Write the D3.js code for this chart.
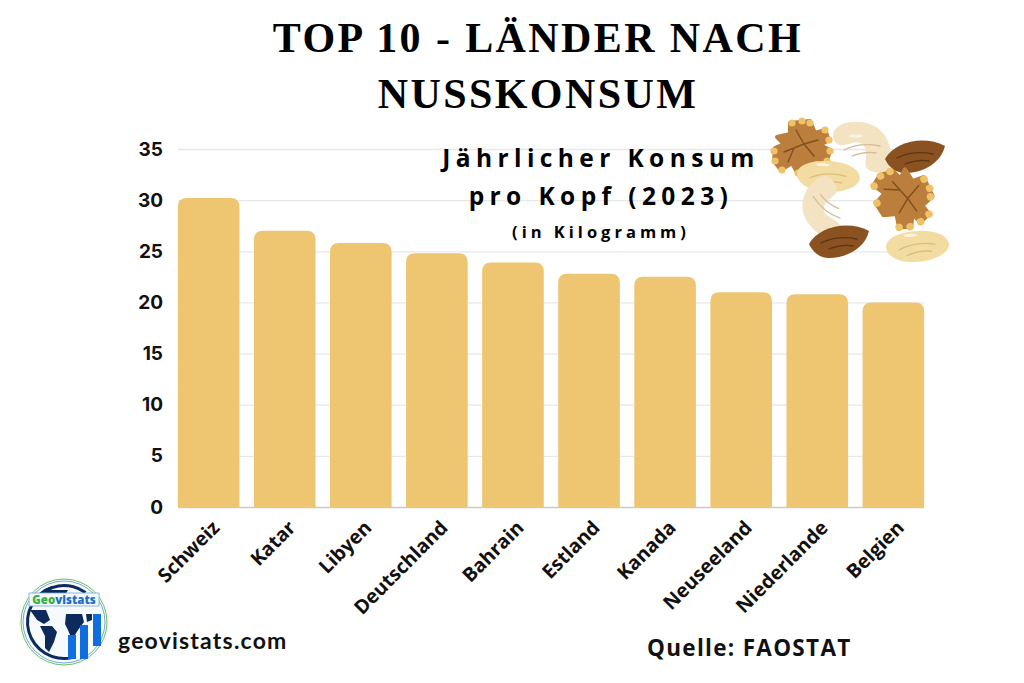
<!DOCTYPE html>
<html>
<head>
<meta charset="utf-8">
<script src="https://cdn.jsdelivr.net/npm/d3@7"></script>
<style>
html, body { margin: 0; padding: 0; background: #fff; }
svg { display: block; }
</style>
</head>
<body>
<div id="chart"></div>
<script>
// values
var countries = ["Schweiz", "Katar", "Libyen", "Deutschland", "Bahrain", "Estland", "Kanada", "Neuseeland", "Niederlande", "Belgien"];
var consumption = [30.2, 27.0, 25.8, 24.8, 23.9, 22.8, 22.5, 21.0, 20.8, 20.0];
var yTicks = [0, 5, 10, 15, 20, 25, 30, 35];
var titleLines = ["TOP 10 - LÄNDER NACH", "NUSSKONSUM"];
var subtitleLines = ["Jährlicher Konsum", "pro Kopf (2023)"];

var svg = d3.select("#chart").append("svg").attr("width", 1024).attr("height", 683);

var x = d3.scaleBand().domain(countries).range([171, 931]).paddingInner(0.19).paddingOuter(0.09);
var y = d3.scaleLinear().domain([0, 35]).range([507, 149]);

// Gridlines and y axis
var yAxis = svg.append("g").attr("transform", "translate(178,0)")
    .call(d3.axisLeft(y).tickValues(yTicks).tickSize(0).tickPadding(15));
yAxis.select(".domain").remove();
yAxis.selectAll("line").attr("x2", 746).attr("stroke", d => d == 0 ? "#c9c9c9" : "#e8e8e8").attr("stroke-width", 1.3);
yAxis.selectAll("text").attr("font-family", "Inter").attr("font-weight", 700).attr("font-size", 19).attr("fill", "#111");

// Bars, rounded on top only
svg.append("g").selectAll("path").data(countries).join("path")
    .attr("fill", "#eec672")
    .attr("d", (d, i) => {
        var x0 = x(d), w = x.bandwidth(), top = y(consumption[i]), r = 9;
        return `M${x0},${y(0)}V${top + r}Q${x0},${top} ${x0 + r},${top}H${x0 + w - r}Q${x0 + w},${top} ${x0 + w},${top + r}V${y(0)}Z`;
    });

// X labels
var xAxis = svg.append("g").attr("transform", "translate(0,507)")
    .call(d3.axisBottom(x).tickSize(0));
xAxis.select(".domain").remove();
xAxis.selectAll("text")
    .attr("font-family", "Open Sans").attr("font-weight", 700).attr("font-size", 19.5).attr("fill", "#111")
    .attr("text-anchor", "end")
    .attr("dy", null).attr("y", 0)
    .attr("transform", "translate(12,22) rotate(-45)");

// Titles
svg.append("g").selectAll("text").data(titleLines).join("text")
    .attr("x", 538).attr("y", (d, i) => 52 + i * 56)
    .attr("text-anchor", "middle")
    .attr("font-family", "Liberation Serif").attr("font-weight", 700)
    .attr("font-size", 42).attr("letter-spacing", 2.4).attr("fill", "#000")
    .text(d => d);

svg.append("g").selectAll("text").data(subtitleLines).join("text")
    .attr("x", 601).attr("y", (d, i) => 167 + i * 38)
    .attr("text-anchor", "middle")
    .attr("font-family", "Open Sans").attr("font-weight", 700)
    .attr("font-size", 24.5).attr("letter-spacing", 5.4).attr("fill", "#000")
    .text(d => d);

svg.append("text").attr("x", 601).attr("y", 238).attr("text-anchor", "middle")
    .attr("font-family", "Open Sans").attr("font-weight", 700)
    .attr("font-size", 16.5).attr("letter-spacing", 4).attr("fill", "#000")
    .text("(in Kilogramm)");

// Footer
svg.append("text").attr("x", 118).attr("y", 649)
    .attr("font-family", "Lato").attr("font-weight", 700)
    .attr("font-size", 23).attr("letter-spacing", 1.2).attr("fill", "#111")
    .text("geovistats.com");
svg.append("text").attr("x", 647).attr("y", 656)
    .attr("font-family", "Open Sans").attr("font-weight", 700)
    .attr("font-size", 22.5).attr("letter-spacing", 1.3).attr("fill", "#111")
    .text("Quelle: FAOSTAT");

// Nut illustration
var almondPath = "M-30,4C-20,-14 10,-20 30,-9C26,8 8,18 -10,18C-20,18 -27,11 -30,4Z";
var peanutPath = "M-31,0C-31,-10 -16,-15 2,-15C18,-15 32,-9 32,0C32,9 16,16 -2,16C-18,16 -31,9 -31,0Z";
var cashewPath = "M-29,-12C-28,-25 -6,-28 8,-23C26,-16 32,2 27,20C25,27 7,27 4,20C2,12 8,4 0,-3C-6,-8 -14,-1 -22,-2C-27,-3 -29,-7 -29,-12Z";
var walnutPath = "M-12,-25L8,-27L13,-15L23,-18L27,-8L18,-3L28,2L25,13L12,11L9,23L-4,26L-10,15L-21,22L-28,13L-27,0L-18,-4L-25,-11L-12,-14Z";
var walnutEdge = [[-10, -25], [0, -27], [8, -25], [23, -18], [27, -8], [28, 3], [-28, 3], [-27, 13], [-20, 22], [-4, 25], [25, 13]];

function nut(path, px, py, fill, vein, rotate, scale, shine) {
    var g = svg.append("g").attr("transform", `translate(${px},${py}) rotate(${rotate}) scale(${scale})`);
    g.append("path").attr("d", path).attr("fill", fill);
    g.append("path").attr("d", "M-18,3C-6,-3 8,-3 18,-1M-10,9C0,5 8,5 14,6").attr("fill", "none")
        .attr("stroke", vein).attr("stroke-width", 1.3).attr("stroke-linecap", "round");
    if (shine) {
        g.append("ellipse").attr("cx", -6).attr("cy", -11).attr("rx", 7).attr("ry", 1.6).attr("fill", "#fff").attr("opacity", 0.6);
    }
}
function walnut(px, py, rotate, scale) {
    var g = svg.append("g").attr("transform", `translate(${px},${py}) rotate(${rotate}) scale(${scale})`);
    g.append("path").attr("d", walnutPath).attr("fill", "#bb7e3c").attr("stroke", "#bb7e3c").attr("stroke-width", 4).attr("stroke-linejoin", "round");
    g.selectAll("circle").data(walnutEdge).join("circle")
        .attr("cx", d => d[0]).attr("cy", d => d[1]).attr("r", 3.6).attr("fill", "#edc268");
    g.append("path").attr("d", "M-18,4L2,-4L16,-8M2,-4L-6,-18M2,-4L12,8M-8,0L-14,14").attr("fill", "none")
        .attr("stroke", "#80501f").attr("stroke-width", 1.4).attr("stroke-linecap", "round");
}
walnut(802, 148, 0, 1);
nut(cashewPath, 862, 147, "#f3e3c3", "#d7bd95", 0, 1, true);
nut(almondPath, 915, 155, "#8a5220", "#5f3510", 0, 1, false);
nut(peanutPath, 828, 176, "#f3dca2", "#d9bd7c", 4, 1, true);
nut(cashewPath, 826, 208, "#f3e3c3", "#d7bd95", 225, 0.95, false);
walnut(903, 198, 70, 1.05);
nut(almondPath, 839, 240, "#8a5220", "#5f3510", 0, 1, false);
nut(peanutPath, 917, 246, "#f3dca2", "#d9bd7c", -3, 1, true);

// Logo
var logo = svg.append("g").attr("transform", "translate(64,622)");
logo.append("circle").attr("r", 45).attr("fill", "#f7fafd");
logo.append("circle").attr("r", 43).attr("fill", "none").attr("stroke", "#6cc45a").attr("stroke-width", 1);
logo.append("circle").attr("r", 41).attr("fill", "none").attr("stroke", "#7ba6d8").attr("stroke-width", 1);
logo.append("path").attr("d", d3.arc()({innerRadius: 35, outerRadius: 38, startAngle: -Math.PI * 0.1, endAngle: -Math.PI * 1.07})).attr("fill", "#0c2a5c");
logo.append("path").attr("d", d3.arc()({innerRadius: 35, outerRadius: 38, startAngle: -Math.PI * 0.3, endAngle: Math.PI * 0.2})).attr("fill", "#0c2a5c");
logo.append("path").attr("d", "M-34,-12L-18,-12L-14,-2L-20,2L-27,-2Z").attr("fill", "#0c2a5c");
logo.append("path").attr("d", "M-24,4L-12,4L-7,10L-10,20L-15,30L-19,26L-19,14Z").attr("fill", "#0c2a5c");
logo.append("path").attr("d", "M-20,-32L4,-32L0,-25L-14,-24Z").attr("fill", "#0c2a5c");
logo.append("path").attr("d", "M2,-8L18,-8L20,0L14,8L8,18L4,8L1,2Z").attr("fill", "#0c2a5c");
logo.append("path").attr("d", "M22,-8L28,-8L28,-2L23,0Z").attr("fill", "#0c2a5c");
var logoBars = [[4, 13, 24], [16, 3, 34], [29, -8, 32]];
logo.selectAll("rect.bar").data(logoBars).join("rect").attr("class", "bar")
    .attr("x", d => d[0]).attr("y", d => d[1]).attr("width", 8).attr("height", d => d[2])
    .attr("fill", "#0f6de0");
logo.append("rect").attr("x", -35).attr("y", -29).attr("width", 70).attr("height", 13)
    .attr("fill", "#f3f8fd").attr("stroke", "#7ba6d8").attr("stroke-width", 0.8);
var logoText = logo.append("text").attr("x", 0).attr("y", -18.5).attr("text-anchor", "middle")
    .attr("font-family", "Open Sans").attr("font-weight", 800).attr("font-size", 11.5);
logoText.append("tspan").attr("fill", "#3cb043").text("Geo");
logoText.append("tspan").attr("fill", "#1f6fc4").text("vistats");
</script>
</body>
</html>
